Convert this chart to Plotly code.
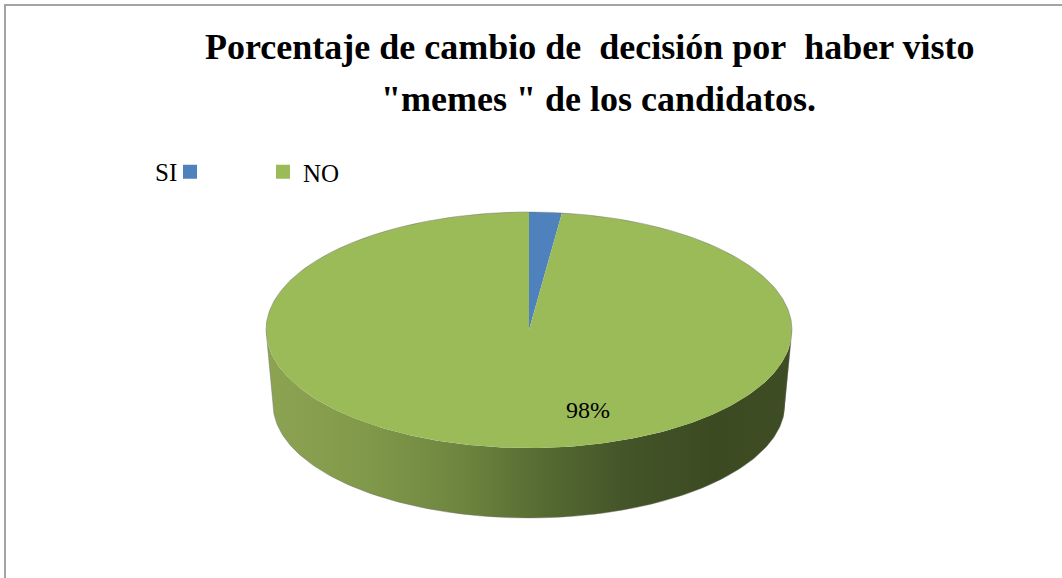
import numpy as np
import plotly.graph_objects as go

# Survey answers: did seeing candidate "memes" change the vote decision?
labels = ["SI", "NO"]
values = [2, 98]
colors = ["#4f81bd", "#9bbb59"]
# side shading (light on the left, dark on the right) for each slice
side_scales = [
    [[0.0, "#5b8ac4"], [0.5, "#3d6391"], [1.0, "#2a4566"]],
    [[0.0, "#8ca452"], [0.2, "#809849"], [0.38, "#6d843f"], [0.52, "#566c32"],
     [0.68, "#445529"], [0.85, "#3c4a22"], [1.0, "#3f4d24"]],
]

title_lines = ["Porcentaje de cambio de\u00a0 decisión por\u00a0 haber visto",
               "\"memes \" de los candidatos."]

W, H = 1062, 578
FONT = "Liberation Serif"

# tilted-disc geometry (screen pixels, y grows downwards)
cx, cy = 529, 330
rx, ry = 263, 118
depth = 74
rx_b, ry_b = 256, 114


def top_pt(t):
    return cx + rx * np.sin(t), cy - ry * np.cos(t)


def bot_pt(t):
    return cx + rx_b * np.sin(t), cy + depth - ry_b * np.cos(t)


total = float(sum(values))
fracs = [v / total for v in values]
starts = np.cumsum([0.0] + fracs[:-1]) * 2 * np.pi
ends = starts + np.array(fracs) * 2 * np.pi

fig = go.Figure()

# visible side walls (front half: t in [pi/2, 3pi/2])
for i in range(len(values)):
    a = max(starts[i], np.pi / 2)
    b = min(ends[i], 3 * np.pi / 2)
    if b <= a:
        continue
    t = np.linspace(a, b, 200)
    xt, yt = top_pt(t)
    xb, yb = bot_pt(t[::-1])
    fig.add_trace(go.Scatter(
        x=np.concatenate([xt, xb]), y=np.concatenate([yt, yb]),
        fill="toself", mode="lines", line=dict(width=0),
        fillgradient=dict(type="horizontal", colorscale=side_scales[i]),
        hoverinfo="skip", showlegend=False))

# top face slices
for i in range(len(values)):
    t = np.linspace(starts[i], ends[i], max(8, int(400 * fracs[i])))
    xs, ys = top_pt(t)
    fig.add_trace(go.Scatter(
        x=np.concatenate([[cx], xs, [cx]]), y=np.concatenate([[cy], ys, [cy]]),
        fill="toself", fillcolor=colors[i], mode="lines", line=dict(width=0),
        hoverinfo="skip", showlegend=False))

# thin silhouette edge
tb = np.linspace(-np.pi / 2, np.pi / 2, 300)
xe1, ye1 = top_pt(tb)
tf = np.linspace(np.pi / 2, 3 * np.pi / 2, 300)
xrb, yrb = bot_pt(np.pi / 2)
xbb, ybb = bot_pt(tf)
xl, yl = top_pt(3 * np.pi / 2)
fig.add_trace(go.Scatter(
    x=np.concatenate([[xl], xe1, [xrb], xbb, [xl]]),
    y=np.concatenate([[yl], ye1, [yrb], ybb, [yl]]),
    mode="lines", line=dict(color="rgba(110,110,110,0.45)", width=1),
    hoverinfo="skip", showlegend=False))

# legend entries
for i in range(len(values)):
    fig.add_trace(go.Scatter(
        x=[None], y=[None], mode="markers",
        marker=dict(symbol="square", size=14, color=colors[i]),
        name="" if i == 0 else labels[i], showlegend=True))

# percentage label of the large slice
pct = round(fracs[1] * 100)
fig.add_annotation(x=588, y=410, xref="x", yref="y", text=f"{pct}%",
                   showarrow=False, font=dict(family=FONT, size=24, color="#000"))

# title, two lines
fig.add_annotation(x=590, y=47, xref="x", yref="y", text=f"<b>{title_lines[0]}</b>",
                   showarrow=False, font=dict(family=FONT, size=36, color="#000"))
fig.add_annotation(x=598, y=99, xref="x", yref="y", text=f"<b>{title_lines[1]}</b>",
                   showarrow=False, font=dict(family=FONT, size=36, color="#000"))

# legend label placed before its swatch
fig.add_annotation(x=166, y=172, xref="x", yref="y", text=labels[0],
                   showarrow=False, font=dict(family=FONT, size=25, color="#000"))

# chart border
fig.add_shape(type="rect", x0=5, y0=5, x1=W + 20, y1=H + 20, xref="x", yref="y",
              line=dict(color="#a3a3a3", width=2), fillcolor="rgba(0,0,0,0)")

fig.update_layout(
    width=W, height=H,
    margin=dict(l=0, r=0, t=0, b=0),
    paper_bgcolor="white", plot_bgcolor="white",
    xaxis=dict(range=[0, W], visible=False, fixedrange=True),
    yaxis=dict(range=[H, 0], visible=False, fixedrange=True),
    showlegend=True,
    legend=dict(orientation="h", x=170 / W, y=1 - 149 / H, xanchor="left", yanchor="top",
                font=dict(family=FONT, size=25, color="#000"),
                bgcolor="rgba(0,0,0,0)", entrywidth=48, entrywidthmode="pixels",
                itemsizing="trace"),
)

fig.write_html("out.html")
